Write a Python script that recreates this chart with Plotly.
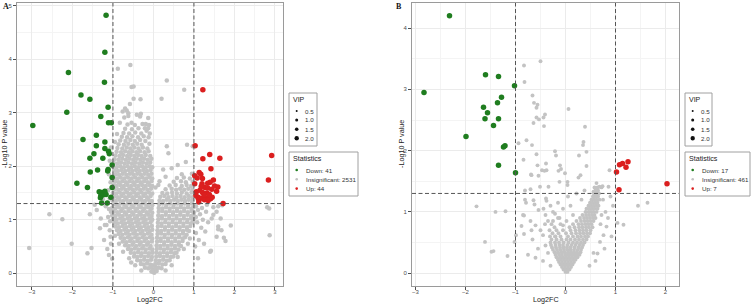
import plotly.graph_objects as go

W, H = 753, 306

# ---------------- thresholds ----------------
FC_CUT = 1.0
P_CUT = 1.301  # -log10(0.05)

# ---------------- Panel A data (Log2FC, -Log10 P) ----------------
down_a = [(-1.17, 4.82), (-1.20, 4.13), (-2.10, 3.75), (-1.21, 3.57), (-1.79, 3.33), (-1.57, 3.25),
          (-1.12, 3.10), (-2.14, 3.01), (-1.30, 2.93), (-1.11, 2.81), (-1.04, 2.81), (-2.98, 2.76),
          (-1.74, 2.50), (-1.41, 2.58), (-1.20, 2.45), (-1.41, 2.38), (-1.20, 2.33), (-1.11, 2.28),
          (-1.09, 2.23), (-1.47, 2.23), (-1.57, 2.15), (-1.25, 2.15), (-1.02, 2.02), (-1.12, 1.94),
          (-1.13, 1.91), (-1.38, 1.93), (-1.56, 1.89), (-1.02, 1.79), (-1.89, 1.68), (-1.63, 1.60),
          (-1.02, 1.60), (-1.34, 1.52), (-1.28, 1.51), (-1.20, 1.53), (-1.30, 1.45), (-1.25, 1.46),
          (-1.17, 1.47), (-1.31, 1.41), (-1.05, 1.42), (-1.28, 1.31), (-1.14, 1.31)]

up_a = [(1.22, 3.43), (1.03, 2.38), (1.39, 2.22), (1.22, 2.14), (1.64, 2.15), (2.92, 2.20), (1.42, 1.95),
        (1.13, 1.88), (1.17, 1.85), (1.02, 1.82), (1.08, 1.78), (1.21, 1.77), (1.48, 1.74), (1.40, 1.70),
        (1.34, 1.68), (2.84, 1.74), (1.02, 1.67), (1.20, 1.67), (1.59, 1.61), (1.27, 1.60), (1.34, 1.59),
        (1.44, 1.57), (1.15, 1.55), (1.06, 1.52), (1.56, 1.53), (1.21, 1.51), (1.32, 1.50), (1.10, 1.42),
        (1.16, 1.40), (1.22, 1.40), (1.29, 1.39), (1.35, 1.41), (1.41, 1.39), (1.11, 1.39), (1.26, 1.37),
        (1.35, 1.36), (1.45, 1.42), (1.72, 1.30), (1.12, 1.33), (1.05, 1.45), (1.51, 1.63), (1.25, 1.46),
        (1.38, 1.47), (1.18, 1.62)]

ins_a_left = [
    (-0.05, 0.03), (-0.01, 0.02), (0.02, 0.01),
    (-0.21, 0.10), (-0.13, 0.09), (-0.06, 0.11), (-0.02, 0.07),
    (-0.31, 0.17), (-0.24, 0.16), (-0.16, 0.18), (-0.08, 0.16), (-0.03, 0.15),
    (-0.40, 0.24), (-0.32, 0.23), (-0.23, 0.25), (-0.14, 0.23), (-0.06, 0.25),
    (-0.48, 0.31), (-0.40, 0.30), (-0.31, 0.32), (-0.22, 0.30), (-0.13, 0.32), (-0.04, 0.30),
    (-0.56, 0.38), (-0.47, 0.37), (-0.38, 0.39), (-0.29, 0.37), (-0.20, 0.39), (-0.11, 0.37), (-0.03, 0.38),
    (-0.63, 0.45), (-0.55, 0.44), (-0.46, 0.46), (-0.37, 0.44), (-0.28, 0.46), (-0.19, 0.44), (-0.10, 0.46), (-0.03, 0.44),
    (-0.70, 0.52), (-0.61, 0.51), (-0.52, 0.53), (-0.43, 0.51), (-0.34, 0.53), (-0.25, 0.51), (-0.16, 0.53), (-0.07, 0.51),
    (-0.76, 0.59), (-0.67, 0.58), (-0.58, 0.60), (-0.49, 0.58), (-0.40, 0.60), (-0.31, 0.58), (-0.22, 0.60), (-0.13, 0.58), (-0.04, 0.59),
    (-0.81, 0.66), (-0.72, 0.65), (-0.63, 0.67), (-0.54, 0.65), (-0.45, 0.67), (-0.36, 0.65), (-0.27, 0.67), (-0.18, 0.65), (-0.09, 0.67), (-0.03, 0.65),
    (-0.86, 0.73), (-0.77, 0.72), (-0.68, 0.74), (-0.59, 0.72), (-0.50, 0.74), (-0.41, 0.72), (-0.32, 0.74), (-0.23, 0.72), (-0.14, 0.74), (-0.05, 0.72),
    (-0.90, 0.80), (-0.81, 0.79), (-0.72, 0.81), (-0.63, 0.79), (-0.54, 0.81), (-0.45, 0.79), (-0.36, 0.81), (-0.27, 0.79), (-0.18, 0.81), (-0.09, 0.79), (-0.03, 0.81),
    (-0.94, 0.87), (-0.85, 0.86), (-0.76, 0.88), (-0.67, 0.86), (-0.58, 0.88), (-0.49, 0.86), (-0.40, 0.88), (-0.31, 0.86), (-0.22, 0.88), (-0.13, 0.86), (-0.04, 0.88),
    (-0.97, 0.94), (-0.88, 0.93), (-0.79, 0.95), (-0.70, 0.93), (-0.61, 0.95), (-0.52, 0.93), (-0.43, 0.95), (-0.34, 0.93), (-0.25, 0.95), (-0.16, 0.93), (-0.07, 0.95),
    (-1.00, 1.01), (-0.91, 1.00), (-0.82, 1.02), (-0.73, 1.00), (-0.64, 1.02), (-0.55, 1.00), (-0.46, 1.02), (-0.37, 1.00), (-0.28, 1.02), (-0.19, 1.00), (-0.10, 1.02), (-0.03, 1.00),
    (-1.02, 1.08), (-0.94, 1.07), (-0.85, 1.09), (-0.76, 1.07), (-0.67, 1.09), (-0.58, 1.07), (-0.49, 1.09), (-0.40, 1.07), (-0.31, 1.09), (-0.22, 1.07), (-0.13, 1.09), (-0.05, 1.07),
    (-0.98, 1.15), (-0.89, 1.14), (-0.80, 1.16), (-0.71, 1.14), (-0.62, 1.16), (-0.53, 1.14), (-0.44, 1.16), (-0.35, 1.14), (-0.26, 1.16), (-0.17, 1.14), (-0.08, 1.16), (-0.03, 1.13),
    (-1.02, 1.22), (-0.94, 1.21), (-0.85, 1.23), (-0.76, 1.21), (-0.67, 1.23), (-0.58, 1.21), (-0.49, 1.23), (-0.40, 1.21), (-0.31, 1.23), (-0.22, 1.21), (-0.13, 1.23), (-0.05, 1.21),
    (-0.99, 1.29), (-0.90, 1.28), (-0.81, 1.30), (-0.72, 1.28), (-0.63, 1.30), (-0.54, 1.28), (-0.45, 1.30), (-0.36, 1.28), (-0.27, 1.30), (-0.18, 1.28), (-0.09, 1.30), (-0.03, 1.27),
    (-1.01, 1.36), (-0.93, 1.35), (-0.84, 1.37), (-0.75, 1.35), (-0.66, 1.37), (-0.57, 1.35), (-0.48, 1.37), (-0.39, 1.35), (-0.30, 1.37), (-0.21, 1.35), (-0.12, 1.37), (-0.04, 1.35),
    (-0.97, 1.43), (-0.88, 1.42), (-0.79, 1.44), (-0.70, 1.42), (-0.61, 1.44), (-0.52, 1.42), (-0.43, 1.44), (-0.34, 1.42), (-0.25, 1.44), (-0.16, 1.42), (-0.07, 1.44),
    (-1.00, 1.50), (-0.92, 1.49), (-0.83, 1.51), (-0.74, 1.49), (-0.65, 1.51), (-0.56, 1.49), (-0.47, 1.51), (-0.38, 1.49), (-0.29, 1.51), (-0.20, 1.49), (-0.11, 1.51), (-0.03, 1.49),
    (-0.96, 1.57), (-0.87, 1.56), (-0.78, 1.58), (-0.69, 1.56), (-0.60, 1.58), (-0.51, 1.56), (-0.42, 1.58), (-0.33, 1.56), (-0.24, 1.58), (-0.15, 1.56), (-0.06, 1.58),
    (-0.99, 1.64), (-0.91, 1.63), (-0.82, 1.65), (-0.73, 1.63), (-0.64, 1.65), (-0.55, 1.63), (-0.46, 1.65), (-0.37, 1.63), (-0.28, 1.65), (-0.19, 1.63), (-0.10, 1.65), (-0.03, 1.63),
    (-0.95, 1.71), (-0.86, 1.70), (-0.77, 1.72), (-0.68, 1.70), (-0.59, 1.72), (-0.50, 1.70), (-0.41, 1.72), (-0.32, 1.70), (-0.23, 1.72), (-0.14, 1.70), (-0.05, 1.72),
    (-0.98, 1.78), (-0.90, 1.77), (-0.81, 1.79), (-0.72, 1.77), (-0.63, 1.79), (-0.54, 1.77), (-0.45, 1.79), (-0.36, 1.77), (-0.27, 1.79), (-0.18, 1.77), (-0.09, 1.79), (-0.03, 1.77),
    (-0.94, 1.85), (-0.85, 1.84), (-0.76, 1.86), (-0.67, 1.84), (-0.58, 1.86), (-0.49, 1.84), (-0.40, 1.86), (-0.31, 1.84), (-0.22, 1.86), (-0.13, 1.84), (-0.05, 1.86),
    (-0.97, 1.92), (-0.88, 1.91), (-0.79, 1.93), (-0.70, 1.91), (-0.61, 1.93), (-0.52, 1.91), (-0.43, 1.93), (-0.34, 1.91), (-0.25, 1.93), (-0.16, 1.91), (-0.07, 1.93),
    (-1.00, 1.99), (-0.91, 1.98), (-0.82, 2.00), (-0.73, 1.98), (-0.64, 2.00), (-0.55, 1.98), (-0.46, 2.00), (-0.37, 1.98), (-0.28, 2.00), (-0.19, 1.98), (-0.10, 2.00), (-0.03, 1.98),
    (-0.98, 2.06), (-0.89, 2.05), (-0.80, 2.07), (-0.71, 2.05), (-0.62, 2.07), (-0.53, 2.05), (-0.44, 2.07), (-0.35, 2.05), (-0.26, 2.07), (-0.17, 2.05), (-0.08, 2.07),
    (-0.96, 2.13), (-0.86, 2.12), (-0.77, 2.14), (-0.68, 2.12), (-0.59, 2.14), (-0.50, 2.12), (-0.41, 2.14), (-0.32, 2.12), (-0.23, 2.14), (-0.14, 2.12), (-0.05, 2.14),
    (-0.94, 2.20), (-0.84, 2.19), (-0.75, 2.21), (-0.65, 2.19), (-0.56, 2.21), (-0.47, 2.19), (-0.38, 2.21), (-0.29, 2.19), (-0.19, 2.21), (-0.08, 2.19),
    (-0.91, 2.27), (-0.80, 2.26), (-0.70, 2.28), (-0.61, 2.26), (-0.52, 2.28), (-0.42, 2.26), (-0.33, 2.28), (-0.22, 2.26), (-0.12, 2.28),
    (-0.89, 2.34), (-0.77, 2.33), (-0.66, 2.35), (-0.57, 2.33), (-0.47, 2.35), (-0.37, 2.33), (-0.26, 2.35), (-0.15, 2.33),
    (-0.86, 2.41), (-0.73, 2.40), (-0.62, 2.42), (-0.51, 2.40), (-0.40, 2.42), (-0.29, 2.40), (-0.10, 2.42),
    (-0.82, 2.48), (-0.69, 2.47), (-0.57, 2.49), (-0.46, 2.47), (-0.33, 2.49), (-0.20, 2.47),
    (-0.78, 2.55), (-0.65, 2.54), (-0.52, 2.56), (-0.38, 2.54), (-0.24, 2.56), (-0.12, 2.54),
    (-0.74, 2.62), (-0.60, 2.61), (-0.45, 2.63), (-0.30, 2.61),
    (-0.70, 2.70), (-0.53, 2.69), (-0.37, 2.71),
    (-0.64, 2.78), (-0.46, 2.77), (-0.27, 2.79),
]

ins_a_right = [
    (0.03, 0.05), (0.08, 0.04),
    (0.05, 0.11), (0.13, 0.10), (0.20, 0.09),
    (0.05, 0.17), (0.13, 0.18), (0.22, 0.16), (0.30, 0.17),
    (0.06, 0.24), (0.15, 0.23), (0.24, 0.25), (0.33, 0.23), (0.40, 0.24),
    (0.07, 0.31), (0.16, 0.32), (0.25, 0.30), (0.34, 0.32), (0.43, 0.30), (0.49, 0.31),
    (0.07, 0.38), (0.16, 0.37), (0.25, 0.39), (0.34, 0.37), (0.43, 0.39), (0.52, 0.37), (0.57, 0.38),
    (0.08, 0.45), (0.17, 0.46), (0.26, 0.44), (0.35, 0.46), (0.44, 0.44), (0.53, 0.46), (0.62, 0.44),
    (0.08, 0.52), (0.17, 0.51), (0.26, 0.53), (0.35, 0.51), (0.44, 0.53), (0.53, 0.51), (0.62, 0.53), (0.68, 0.51),
    (0.09, 0.59), (0.18, 0.60), (0.27, 0.58), (0.36, 0.60), (0.45, 0.58), (0.54, 0.60), (0.63, 0.58), (0.72, 0.60),
    (0.09, 0.66), (0.18, 0.65), (0.27, 0.67), (0.36, 0.65), (0.45, 0.67), (0.54, 0.65), (0.63, 0.67), (0.72, 0.65), (0.78, 0.67),
    (0.10, 0.73), (0.19, 0.74), (0.28, 0.72), (0.37, 0.74), (0.46, 0.72), (0.55, 0.74), (0.64, 0.72), (0.73, 0.74), (0.82, 0.72),
    (0.10, 0.80), (0.19, 0.79), (0.28, 0.81), (0.37, 0.79), (0.46, 0.81), (0.55, 0.79), (0.64, 0.81), (0.73, 0.79), (0.82, 0.81), (0.88, 0.79),
    (0.11, 0.87), (0.20, 0.88), (0.29, 0.86), (0.38, 0.88), (0.47, 0.86), (0.56, 0.88), (0.65, 0.86), (0.74, 0.88), (0.83, 0.86), (0.91, 0.88),
    (0.11, 0.94), (0.20, 0.93), (0.29, 0.95), (0.38, 0.93), (0.47, 0.95), (0.56, 0.93), (0.65, 0.95), (0.74, 0.93), (0.83, 0.95), (0.92, 0.93), (0.97, 0.95),
    (0.12, 1.01), (0.21, 1.02), (0.30, 1.00), (0.39, 1.02), (0.48, 1.00), (0.57, 1.02), (0.66, 1.00), (0.75, 1.02), (0.84, 1.00), (0.93, 1.02), (0.99, 1.00),
    (0.12, 1.08), (0.21, 1.07), (0.30, 1.09), (0.39, 1.07), (0.48, 1.09), (0.57, 1.07), (0.66, 1.09), (0.75, 1.07), (0.84, 1.09), (0.93, 1.07), (0.99, 1.09),
    (0.13, 1.15), (0.22, 1.16), (0.31, 1.14), (0.40, 1.16), (0.49, 1.14), (0.58, 1.16), (0.67, 1.14), (0.76, 1.16), (0.85, 1.14), (0.94, 1.16), (1.00, 1.14),
    (0.13, 1.22), (0.22, 1.21), (0.31, 1.23), (0.40, 1.21), (0.49, 1.23), (0.58, 1.21), (0.67, 1.23), (0.76, 1.21), (0.85, 1.23), (0.94, 1.21), (0.99, 1.23),
    (0.14, 1.29), (0.23, 1.30), (0.32, 1.28), (0.41, 1.30), (0.50, 1.28), (0.59, 1.30), (0.68, 1.28), (0.77, 1.30), (0.86, 1.28), (0.95, 1.30),
    (0.15, 1.36), (0.24, 1.35), (0.33, 1.37), (0.42, 1.35), (0.51, 1.37), (0.60, 1.35), (0.69, 1.37), (0.78, 1.35), (0.87, 1.37), (0.96, 1.35),
    (0.17, 1.43), (0.27, 1.44), (0.37, 1.42), (0.47, 1.44), (0.57, 1.42), (0.67, 1.44), (0.77, 1.42), (0.87, 1.44), (0.96, 1.42),
    (0.22, 1.50), (0.34, 1.49), (0.46, 1.51), (0.58, 1.49), (0.70, 1.51), (0.82, 1.49), (0.94, 1.51),
    (0.30, 1.57), (0.45, 1.58), (0.56, 1.56), (0.66, 1.58), (0.76, 1.56), (0.86, 1.58), (0.96, 1.56),
    (0.40, 1.64), (0.55, 1.65), (0.70, 1.63), (0.82, 1.65), (0.93, 1.63),
    (0.50, 1.71), (0.68, 1.72), (0.80, 1.70), (0.97, 1.71),
    (0.58, 1.78), (0.75, 1.79), (0.90, 1.77),
    (0.70, 1.85), (0.95, 1.86),
]

ins_a_sparse = [
    (-0.88, 3.82), (-0.57, 3.89), (0.33, 3.60), (0.76, 3.43), (0.20, 3.26), (-0.32, 3.25), (-0.49, 3.26),
    (-0.54, 3.48), (-0.49, 3.49), (-0.58, 3.16), (-0.70, 3.08), (-0.66, 3.04), (-0.62, 2.99), (-0.72, 2.91),
    (-0.62, 2.94), (-0.41, 2.96), (-0.33, 2.93), (-0.13, 2.90), (-0.83, 2.81), (-0.54, 2.81), (-0.19, 2.79),
    (-0.13, 2.71), (-0.17, 2.66), (-0.09, 2.61), (-0.76, 3.02), (-0.31, 2.98), (-0.11, 2.77), (-0.21, 2.71),
    (-0.90, 2.60), (-0.95, 2.45), (-1.05, 2.35),
    (0.83, 2.40), (0.97, 2.37), (0.33, 2.37), (0.37, 2.24), (0.24, 1.94), (0.45, 1.96), (0.80, 2.08),
    (0.60, 2.02), (0.15, 1.72), (0.30, 1.80), (0.05, 1.60), (0.12, 1.65),
    (-2.57, 1.10), (-2.25, 1.01), (-3.07, 0.47), (-2.02, 0.55), (-1.53, 0.47), (-1.63, 0.37), (-1.57, 1.10),
    (-1.30, 1.02), (-1.20, 0.90), (-1.06, 0.68), (-1.07, 0.97), (-1.16, 0.90), (-1.32, 0.84), (-1.14, 0.45),
    (-1.10, 0.34), (-1.02, 0.27), (-1.10, 1.20), (-1.18, 1.25), (-1.40, 1.18), (-1.08, 1.40), (-1.12, 1.55),
    (-1.06, 1.70), (-1.10, 1.85), (-1.08, 2.10), (-1.25, 1.38), (-1.45, 1.28), (-1.05, 1.15), (-1.12, 1.05),
    (-1.08, 0.80), (-1.22, 0.62), (-1.05, 0.55),
    (-0.75, 0.40), (-0.60, 0.28), (-0.45, 0.15), (-0.85, 0.55), (-0.95, 0.70), (-0.30, 0.05), (-0.55, 0.20),
    (2.81, 1.23), (2.86, 1.21), (2.87, 0.71), (1.91, 0.89), (1.66, 1.02), (1.48, 1.23), (1.56, 1.15),
    (1.44, 1.02), (1.60, 0.82), (1.68, 0.80), (1.74, 0.66), (1.56, 0.68), (1.42, 0.42), (1.48, 1.09),
    (1.60, 0.87), (1.40, 0.40), (1.78, 0.60), (1.05, 1.25), (1.10, 1.18), (1.15, 1.10), (1.22, 1.00),
    (1.08, 0.95), (1.18, 0.85), (1.28, 0.78), (1.05, 0.75), (1.12, 0.62), (1.25, 0.55), (1.03, 0.50),
    (1.20, 1.22), (1.30, 1.15), (1.35, 0.95), (1.05, 1.05), (1.32, 1.28), (1.60, 1.25), (1.70, 1.27),
    (1.10, 0.28),
    (0.60, 0.30), (0.45, 0.15), (0.75, 0.45), (0.85, 0.55), (0.30, 0.05), (0.90, 0.65),
]

# ---------------- Panel B data ----------------
down_b = [(-2.32, 4.20), (-2.83, 2.95), (-1.60, 3.24), (-1.34, 3.21), (-1.02, 3.06), (-1.28, 2.87),
          (-1.36, 2.78), (-1.64, 2.71), (-1.56, 2.62), (-1.61, 2.52), (-1.34, 2.52), (-1.44, 2.41),
          (-1.99, 2.23), (-1.24, 2.06), (-1.21, 2.08), (-1.34, 1.76), (-1.00, 1.64)]

up_b = [(1.02, 1.65), (1.08, 1.77), (1.14, 1.79), (1.25, 1.82), (1.21, 1.73), (2.03, 1.46), (1.07, 1.36)]

ins_b_core = [
    (0.00, 0.02), (0.04, 0.02),
    (-0.04, 0.06), (0.02, 0.06), (0.08, 0.06),
    (-0.07, 0.10), (-0.01, 0.10), (0.05, 0.10), (0.11, 0.10),
    (-0.10, 0.14), (-0.04, 0.14), (0.02, 0.14), (0.08, 0.14), (0.14, 0.14),
    (-0.13, 0.18), (-0.07, 0.18), (-0.01, 0.18), (0.05, 0.18), (0.11, 0.18), (0.17, 0.18),
    (-0.15, 0.22), (-0.09, 0.22), (-0.03, 0.22), (0.03, 0.22), (0.09, 0.22), (0.15, 0.22), (0.20, 0.22),
    (-0.18, 0.26), (-0.11, 0.26), (-0.05, 0.26), (0.01, 0.26), (0.07, 0.26), (0.13, 0.26), (0.19, 0.26), (0.24, 0.26),
    (-0.20, 0.30), (-0.13, 0.30), (-0.07, 0.30), (0.00, 0.30), (0.06, 0.30), (0.12, 0.30), (0.18, 0.30), (0.24, 0.30), (0.28, 0.30),
    (-0.22, 0.34), (-0.15, 0.34), (-0.08, 0.34), (-0.02, 0.34), (0.05, 0.34), (0.11, 0.34), (0.17, 0.34), (0.23, 0.34), (0.30, 0.34),
    (-0.25, 0.38), (-0.17, 0.38), (-0.10, 0.38), (-0.03, 0.38), (0.04, 0.38), (0.10, 0.38), (0.17, 0.38), (0.24, 0.38), (0.31, 0.38),
    (-0.27, 0.42), (-0.19, 0.42), (-0.11, 0.42), (-0.04, 0.42), (0.03, 0.42), (0.10, 0.42), (0.18, 0.42), (0.26, 0.42), (0.33, 0.42),
    (-0.29, 0.46), (-0.20, 0.46), (-0.12, 0.46), (-0.05, 0.46), (0.04, 0.46), (0.12, 0.46), (0.20, 0.46), (0.28, 0.46), (0.35, 0.46),
    (-0.30, 0.50), (-0.21, 0.50), (-0.13, 0.50), (-0.04, 0.50), (0.06, 0.50), (0.15, 0.50), (0.23, 0.50), (0.31, 0.50), (0.38, 0.50),
    (-0.28, 0.55), (-0.18, 0.55), (-0.08, 0.55), (0.02, 0.55), (0.10, 0.55), (0.19, 0.55), (0.27, 0.55), (0.35, 0.55), (0.42, 0.55),
    (-0.31, 0.60), (-0.20, 0.60), (-0.10, 0.60), (0.05, 0.60), (0.15, 0.60), (0.24, 0.60), (0.31, 0.60), (0.39, 0.60), (0.45, 0.60),
    (-0.26, 0.65), (-0.14, 0.65), (0.01, 0.65), (0.12, 0.65), (0.21, 0.65), (0.29, 0.65), (0.36, 0.65), (0.43, 0.65), (0.49, 0.65),
    (-0.32, 0.70), (-0.18, 0.70), (-0.05, 0.70), (0.10, 0.70), (0.20, 0.70), (0.28, 0.70), (0.35, 0.70), (0.42, 0.70), (0.50, 0.70),
    (-0.22, 0.75), (0.08, 0.75), (0.18, 0.75), (0.27, 0.75), (0.34, 0.75), (0.41, 0.75), (0.47, 0.75), (0.54, 0.75),
    (-0.28, 0.80), (-0.10, 0.80), (0.15, 0.80), (0.26, 0.80), (0.33, 0.80), (0.40, 0.80), (0.46, 0.80), (0.52, 0.80),
    (-0.35, 0.85), (0.22, 0.85), (0.31, 0.85), (0.38, 0.85), (0.44, 0.85), (0.50, 0.85), (0.56, 0.85),
    (-0.15, 0.90), (0.29, 0.90), (0.37, 0.90), (0.43, 0.90), (0.49, 0.90), (0.55, 0.90), (0.60, 0.90),
    (-0.40, 0.95), (0.34, 0.95), (0.41, 0.95), (0.47, 0.95), (0.53, 0.95), (0.58, 0.95),
    (-0.25, 1.00), (0.40, 1.00), (0.46, 1.00), (0.51, 1.00), (0.56, 1.00), (0.62, 1.00),
    (0.42, 1.05), (0.48, 1.05), (0.53, 1.05), (0.58, 1.05), (0.64, 1.05),
    (0.46, 1.10), (0.51, 1.10), (0.56, 1.10), (0.61, 1.10), (0.66, 1.10),
    (0.49, 1.15), (0.54, 1.15), (0.59, 1.15), (0.64, 1.15),
    (0.52, 1.20), (0.57, 1.20), (0.62, 1.20), (0.68, 1.20),
    (0.55, 1.25), (0.60, 1.25), (0.65, 1.25),
    (0.57, 1.30), (0.62, 1.30), (0.67, 1.30),
    (0.60, 1.35), (0.65, 1.35),
    (0.58, 1.40), (0.64, 1.40),
]

ins_b_sparse = [
    (-0.83, 3.39), (-0.50, 3.46), (-0.82, 3.12), (-0.66, 2.90), (-0.63, 2.78), (-0.56, 2.75), (-0.58, 2.70),
    (-0.41, 2.59), (-0.44, 2.54), (-0.58, 2.54), (-0.53, 2.51), (-0.43, 2.40), (-0.64, 2.45), (0.06, 2.68),
    (-0.78, 2.17), (-0.94, 2.12), (-0.67, 2.09), (-0.58, 1.94), (-0.21, 1.99), (-0.19, 1.92), (-0.84, 1.85),
    (0.39, 2.39), (0.36, 2.14), (0.35, 2.09), (0.42, 1.98), (0.27, 1.92), (0.42, 1.75), (-0.11, 1.76),
    (0.88, 1.68), (-0.01, 1.63), (0.30, 1.60), (0.26, 1.56), (0.04, 1.44), (0.68, 1.41), (0.72, 1.40),
    (0.56, 1.33), (-0.56, 1.76), (-0.39, 1.79), (-0.47, 1.68), (-0.42, 1.67), (-0.38, 1.68), (-0.68, 1.60),
    (-0.14, 1.67), (-0.09, 1.70), (-0.12, 1.49), (0.04, 1.49), (0.62, 1.47), (0.74, 1.42), (0.86, 1.41),
    (-0.34, 1.41), (-0.51, 1.41), (-0.70, 1.37), (-0.81, 1.35), (-0.54, 1.59), (-0.69, 1.61),
    (-1.78, 1.09), (-1.40, 1.00), (-1.20, 1.01), (-1.61, 0.51), (-1.48, 0.35), (-1.44, 0.36), (-1.16, 0.28),
    (-1.02, 0.51), (-0.99, 0.62),
    (-0.81, 1.20), (-0.79, 1.15), (-0.64, 1.19), (-0.62, 1.12), (-0.39, 1.22), (-0.38, 1.18), (-0.85, 0.95),
    (-0.83, 0.94), (-0.54, 1.03), (-0.44, 1.05), (-0.21, 0.97), (-0.70, 0.85), (-0.60, 0.78), (-0.50, 0.70),
    (-0.45, 0.62), (-0.66, 0.55), (-0.40, 0.45), (-0.55, 0.40), (-0.35, 0.33), (-0.75, 0.30), (-0.60, 0.25),
    (-0.45, 0.20), (-0.30, 0.12), (-0.88, 0.77), (-0.83, 0.64), (-0.68, 0.70), (-0.41, 0.80), (-0.21, 0.60),
    (-0.25, 0.85), (-0.12, 0.90), (-0.30, 1.10), (-0.15, 1.15), (-0.05, 1.05), (0.05, 1.25), (0.10, 1.10),
    (0.15, 0.95), (0.02, 0.85), (-0.05, 0.78),
    (1.45, 1.10), (1.64, 1.15), (1.04, 0.82), (1.16, 0.79), (0.82, 0.76), (0.76, 0.62), (0.69, 0.51),
    (0.56, 0.33), (0.64, 0.32), (0.90, 1.25), (0.95, 1.10), (0.80, 1.00), (0.85, 0.90), (0.72, 0.95),
    (0.75, 1.20), (0.78, 0.40), (0.60, 0.20), (0.48, 0.12), (0.92, 0.60), (0.70, 0.80), (0.22, 1.30),
    (0.32, 1.20), (0.38, 1.35),
]

# ---------------- legend content ----------------
vip_levels = ["0.5", "1.0", "1.5", "2.0"]
stat_labels_a = ["Down: 41", "Insignificant: 2531", "Up: 44"]
stat_labels_b = ["Down: 17", "Insignificant: 461", "Up: 7"]

COL_DOWN = "#1f7d1f"
COL_INS = "#c3c3c3"
COL_UP = "#db1f1f"

FONT = "Liberation Sans"


def xs(pts):
    return [p[0] for p in pts]


def ys(pts):
    return [p[1] for p in pts]


fig = go.Figure()

panels = [
    ("x", "y", ins_a_left + ins_a_right + ins_a_sparse, down_a, up_a, 4.5),
    ("x2", "y2", ins_b_core + ins_b_sparse, down_b, up_b, 3.9),
]
for xa, ya, ins, dn, up, gsize in panels:
    fig.add_trace(go.Scatter(x=xs(ins), y=ys(ins), mode="markers", xaxis=xa, yaxis=ya,
                             marker=dict(color=COL_INS, size=gsize, line=dict(width=0)),
                             showlegend=False, name="Insignificant"))
    fig.add_trace(go.Scatter(x=xs(dn), y=ys(dn), mode="markers", xaxis=xa, yaxis=ya,
                             marker=dict(color=COL_DOWN, size=5.5, line=dict(width=0)),
                             showlegend=False, name="Down"))
    fig.add_trace(go.Scatter(x=xs(up), y=ys(up), mode="markers", xaxis=xa, yaxis=ya,
                             marker=dict(color=COL_UP, size=5.5, line=dict(width=0)),
                             showlegend=False, name="Up"))

axis_common = dict(
    showgrid=True, gridcolor="#ebebeb", gridwidth=0.7, zeroline=False,
    showline=True, linecolor="#9a9a9a", linewidth=1, mirror=True,
    ticks="outside", ticklen=3, tickwidth=0.8, tickcolor="#4d4d4d",
    tickfont=dict(family=FONT, size=6, color="#4d4d4d"),
    dtick=1, tick0=0,
    minor=dict(dtick=0.5, tick0=0, showgrid=True, gridcolor="#f4f4f4", gridwidth=0.5, ticks=""),
    automargin=False,
)

ydom = [20 / H, 1 - 3 / H]
fig.update_layout(
    width=W, height=H, autosize=False,
    margin=dict(l=0, r=0, t=0, b=0),
    paper_bgcolor="white", plot_bgcolor="white",
    showlegend=False,
    xaxis=dict(axis_common, domain=[17 / W, 283 / W], range=[-3.37, 3.2], anchor="y", ticklabelstandoff=-3),
    yaxis=dict(axis_common, domain=ydom, range=[-0.24, 5.05], anchor="x"),
    xaxis2=dict(axis_common, domain=[412 / W, 679 / W], range=[-3.07, 2.27], anchor="y2", ticklabelstandoff=-3),
    yaxis2=dict(axis_common, domain=ydom, range=[-0.21, 4.41], anchor="x2"),
)

# threshold lines
dash_line = dict(color="#555555", width=1, dash="4px,2.5px")
for xr, yr in (("x", "y"), ("x2", "y2")):
    for xv in (-FC_CUT, FC_CUT):
        fig.add_shape(type="line", xref=xr, yref=yr + " domain", x0=xv, x1=xv, y0=0, y1=1,
                      line=dash_line, layer="above")
    fig.add_shape(type="line", xref=xr + " domain", yref=yr, x0=0, x1=1, y0=P_CUT, y1=P_CUT,
                  line=dash_line, layer="above")


def px_x(v):
    return v / W


def px_y(v):
    return 1 - v / H


def text(t, x, y, size, color="#222", bold=False, family=FONT, xanchor="left", angle=0):
    fig.add_annotation(text=("<b>%s</b>" % t) if bold else t, x=px_x(x), y=px_y(y),
                       xref="paper", yref="paper", showarrow=False, xanchor=xanchor, yanchor="middle",
                       textangle=angle, borderpad=0,
                       font=dict(family=family, size=size, color=color))


def box(x0, y0, x1, y1):
    fig.add_shape(type="rect", xref="paper", yref="paper", x0=px_x(x0), x1=px_x(x1),
                  y0=px_y(y1), y1=px_y(y0), line=dict(color="#a0a0a0", width=1), fillcolor="white",
                  layer="below")


def dot(cx, cy, d, color):
    r = d / 2
    fig.add_shape(type="circle", xref="paper", yref="paper", x0=px_x(cx - r), x1=px_x(cx + r),
                  y0=px_y(cy + r), y1=px_y(cy - r), line=dict(width=0), fillcolor=color)


# axis titles
for cx in (150, 545.5):
    text("Log2FC", cx, 299.5, 7.2, xanchor="center")
for cx in (4.5, 401.5):
    text("-Log10 P value", cx, 144.5, 7.2, xanchor="center", angle=-90)

# panel letters
text("A", 1.5, 6, 8, color="#111", bold=True, family="Liberation Serif")
text("B", 395, 6, 8, color="#111", bold=True, family="Liberation Serif")

vip_sizes = [2.0, 3.0, 3.6, 4.4]
vip_rows = [111, 120, 129.3, 138.3]
stat_rows = [170, 179.3, 188.6]
for (bx0, bx1v, bx1s, dotx, labx, labels) in (
        (289, 317, 358, 296.7, 304, stat_labels_a),
        (685, 712, 750, 692.7, 700, stat_labels_b)):
    box(bx0, 93, bx1v, 146)
    text("VIP", bx0 + 2.5, 100, 7)
    for lv, sz, ry in zip(vip_levels, vip_sizes, vip_rows):
        dot(dotx, ry, sz, "#111")
        text(lv, labx, ry, 6.2, color="#333")
    box(bx0, 152, bx1s, 196)
    text("Statistics", bx0 + 2.5, 158.5, 7.1)
    for lab, col, ry in zip(labels, (COL_DOWN, COL_INS, COL_UP), stat_rows):
        dot(dotx, ry, 2.6, col)
        text(lab, labx + 1, ry, 6.2, color="#333")

fig.write_html("out.html", config={"displayModeBar": False},
               post_script="document.body.style.margin='0px';document.body.style.padding='0px';")
